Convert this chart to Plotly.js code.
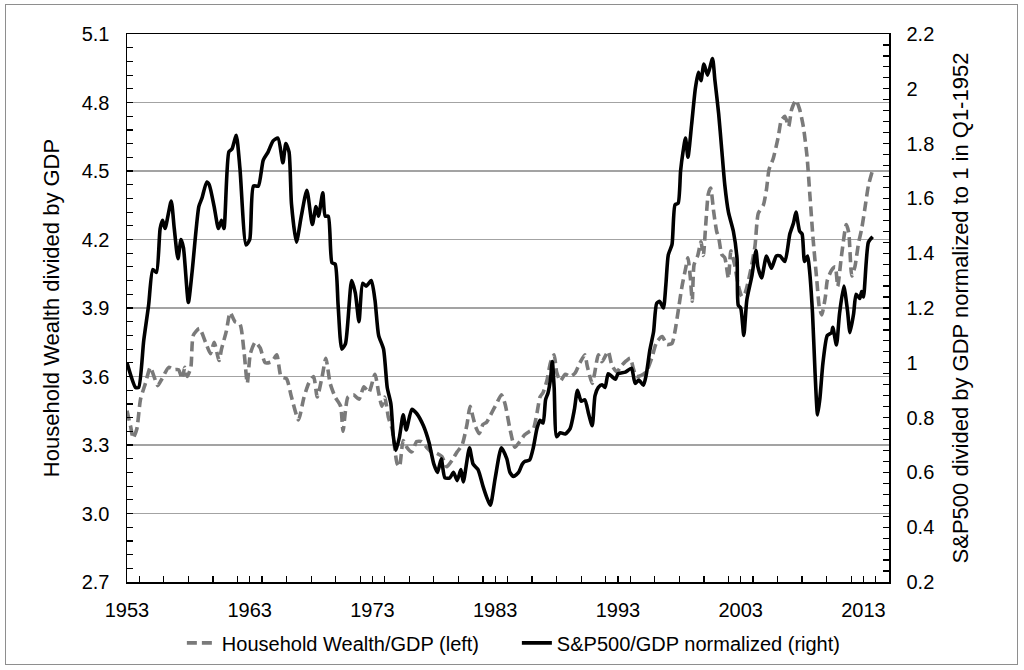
<!DOCTYPE html>
<html>
<head>
<meta charset="utf-8">
<script src="https://cdn.plot.ly/plotly-3.0.1.min.js"></script>
<style>
  body { margin: 0; background: #fff; }
  #chart { width: 1024px; height: 670px; }
  #frame { position: absolute; left: 5px; top: 4px; width: 1011px; height: 659px;
           border: 1px solid #8e8e8e; pointer-events: none; }
</style>
</head>
<body>
<div id="chart"></div>
<div id="frame"></div>
<script>
// household wealth / GDP (left axis)
var wealthYears = [1953.0, 1953.3, 1953.5, 1953.8, 1954.1, 1954.5, 1954.9, 1955.2, 1955.5, 1955.85,
  1956.4, 1956.8, 1957.2, 1957.5, 1957.7, 1957.9, 1958.2, 1958.4, 1958.9, 1959.4,
  1959.8, 1960.1, 1960.5, 1960.7, 1961.1, 1961.4, 1961.8, 1962.2, 1962.55, 1962.8,
  1963.05, 1963.45, 1963.85, 1964.26, 1964.8, 1965.2, 1965.55, 1966.0, 1966.4, 1966.97,
  1967.4, 1967.8, 1968.2, 1968.5, 1968.9, 1969.2, 1969.55, 1969.96, 1970.4, 1970.6,
  1971.0, 1971.45, 1971.9, 1972.3, 1972.7, 1973.2, 1973.5, 1973.76, 1974.0, 1974.3,
  1974.6, 1975.0, 1975.2, 1975.5, 1975.8, 1976.2, 1976.6, 1977.0, 1977.4, 1977.8,
  1978.2, 1978.65, 1979.05, 1979.5, 1979.9, 1980.3, 1980.7, 1980.95, 1981.2, 1981.4,
  1981.7, 1982.0, 1982.3, 1982.7, 1983.1, 1983.5, 1983.8, 1984.2, 1984.6, 1985.0,
  1985.4, 1985.8, 1986.1, 1986.4, 1986.65, 1986.9, 1987.2, 1987.5, 1987.8, 1988.0,
  1988.3, 1988.7, 1989.1, 1989.5, 1989.9, 1990.3, 1990.5, 1990.9, 1991.1, 1991.4,
  1991.7, 1992.2, 1992.5, 1992.9, 1993.25, 1993.6, 1994.0, 1994.25, 1994.5, 1994.9,
  1995.3, 1995.75, 1996.15, 1996.6, 1997.0, 1997.4, 1997.65, 1997.9, 1998.2, 1998.5,
  1998.7, 1998.9, 1999.05, 1999.2, 1999.5, 1999.76, 1999.95, 2000.15, 2000.36, 2000.55,
  2000.8, 2001.04, 2001.2, 2001.45, 2001.7, 2002.0, 2002.2, 2002.5, 2002.8, 2003.1,
  2003.35, 2003.75, 2004.16, 2004.43, 2004.84, 2005.1, 2005.3, 2005.65, 2006.06, 2006.3,
  2006.6, 2006.9, 2007.15, 2007.5, 2007.8, 2008.1, 2008.4, 2008.64, 2008.9, 2009.2,
  2009.4, 2009.6, 2009.9, 2010.05, 2010.4, 2010.7, 2010.9, 2011.2, 2011.6, 2011.8,
  2012.05, 2012.3, 2012.6, 2012.85, 2013.1, 2013.4, 2013.75];
var wealthVals = [3.45, 3.38, 3.33, 3.37, 3.50, 3.57, 3.64, 3.60, 3.56, 3.59,
  3.64, 3.63, 3.63, 3.59, 3.64, 3.60, 3.64, 3.78, 3.81, 3.75,
  3.70, 3.75, 3.67, 3.72, 3.80, 3.88, 3.84, 3.83, 3.70, 3.57,
  3.70, 3.75, 3.725, 3.66, 3.665, 3.695, 3.60, 3.59, 3.51, 3.41,
  3.505, 3.57, 3.60, 3.51, 3.60, 3.68, 3.57, 3.51, 3.47, 3.36,
  3.51, 3.52, 3.50, 3.555, 3.53, 3.61, 3.53, 3.47, 3.51, 3.42,
  3.37, 3.22, 3.205, 3.32, 3.29, 3.27, 3.315, 3.315, 3.29, 3.27,
  3.265, 3.25, 3.205, 3.235, 3.27, 3.30, 3.39, 3.47, 3.42, 3.38,
  3.35, 3.39, 3.40, 3.44, 3.48, 3.52, 3.48, 3.37, 3.29, 3.315,
  3.345, 3.36, 3.37, 3.44, 3.51, 3.53, 3.58, 3.66, 3.695, 3.62,
  3.58, 3.61, 3.60, 3.615, 3.66, 3.695, 3.645, 3.57, 3.615, 3.695,
  3.665, 3.71, 3.65, 3.62, 3.645, 3.665, 3.68, 3.635, 3.60, 3.605,
  3.62, 3.68, 3.75, 3.775, 3.74, 3.745, 3.80, 3.885, 3.99, 4.07,
  4.12, 4.03, 3.93, 4.09, 4.13, 4.19, 4.13, 4.265, 4.40, 4.425,
  4.32, 4.235, 4.21, 4.135, 4.12, 4.03, 4.15, 4.09, 4.00, 3.95,
  3.965, 4.05, 4.17, 4.315, 4.35, 4.42, 4.505, 4.555, 4.65, 4.72,
  4.74, 4.695, 4.77, 4.81, 4.77, 4.695, 4.565, 4.39, 4.20, 4.02,
  3.905, 3.87, 3.95, 4.02, 4.065, 4.08, 3.995, 4.125, 4.265, 4.23,
  4.04, 4.08, 4.185, 4.245, 4.33, 4.435, 4.505];

// S&P500 / GDP normalized (right axis)
var spYears = [1953.0, 1953.7, 1953.95, 1954.36, 1954.76, 1955.1, 1955.4, 1955.7, 1955.9, 1956.1,
  1956.6, 1956.85, 1957.15, 1957.4, 1957.6, 1958.0, 1958.3, 1958.85, 1959.1, 1959.5,
  1959.7, 1960.1, 1960.45, 1960.7, 1960.9, 1961.3, 1961.55, 1961.9, 1962.2, 1962.7,
  1963.0, 1963.3, 1963.7, 1964.1, 1964.5, 1964.9, 1965.3, 1965.7, 1965.94, 1966.2,
  1966.4, 1966.8, 1967.2, 1967.65, 1968.1, 1968.4, 1968.6, 1968.95, 1969.15, 1969.4,
  1969.7, 1969.96, 1970.2, 1970.5, 1970.8, 1971.3, 1971.6, 1971.9, 1972.2, 1972.5,
  1972.9, 1973.2, 1973.5, 1973.9, 1974.2, 1974.5, 1974.7, 1974.9, 1975.2, 1975.5,
  1975.75, 1976.2, 1976.6, 1977.15, 1977.6, 1978.0, 1978.3, 1978.6, 1978.9, 1979.3,
  1979.6, 1979.9, 1980.2, 1980.4, 1980.9, 1981.2, 1981.6, 1982.0, 1982.3, 1982.6,
  1983.0, 1983.5, 1983.94, 1984.2, 1984.5, 1984.9, 1985.2, 1985.4, 1985.8, 1986.1,
  1986.4, 1986.65, 1986.9, 1987.1, 1987.3, 1987.5, 1987.65, 1987.8, 1988.0, 1988.3,
  1988.7, 1989.1, 1989.45, 1989.7, 1990.0, 1990.3, 1990.6, 1990.9, 1991.13, 1991.4,
  1991.7, 1991.95, 1992.2, 1992.5, 1992.8, 1993.0, 1993.6, 1994.1, 1994.4, 1994.7,
  1995.07, 1995.3, 1995.6, 1995.9, 1996.15, 1996.4, 1996.7, 1996.9, 1997.1, 1997.4,
  1997.65, 1997.9, 1998.1, 1998.3, 1998.5, 1998.7, 1999.0, 1999.3, 1999.55, 1999.76,
  2000.0, 2000.3, 2000.7, 2000.9, 2001.2, 2001.45, 2001.7, 2002.0, 2002.4, 2002.7,
  2002.8, 2003.0, 2003.25, 2003.5, 2003.9, 2004.24, 2004.4, 2004.7, 2005.1, 2005.5,
  2005.9, 2006.2, 2006.6, 2007.0, 2007.3, 2007.5, 2007.8, 2008.0, 2008.2, 2008.45,
  2008.6, 2008.85, 2009.05, 2009.26, 2009.45, 2009.7, 2010.05, 2010.4, 2010.5, 2010.8,
  2011.05, 2011.4, 2011.7, 2011.9, 2012.2, 2012.4, 2012.7, 2012.85, 2013.0, 2013.4,
  2013.75];
var spVals = [1.00, 0.91, 0.91, 1.08, 1.21, 1.34, 1.33, 1.49, 1.52, 1.49,
  1.59, 1.49, 1.38, 1.45, 1.42, 1.22, 1.33, 1.57, 1.60, 1.66,
  1.65, 1.57, 1.49, 1.52, 1.49, 1.77, 1.78, 1.83, 1.71, 1.43,
  1.45, 1.645, 1.645, 1.74, 1.77, 1.81, 1.82, 1.73, 1.80, 1.77,
  1.58, 1.44, 1.535, 1.63, 1.505, 1.57, 1.535, 1.62, 1.535, 1.535,
  1.365, 1.36, 1.21, 1.05, 1.07, 1.30, 1.255, 1.15, 1.29, 1.28,
  1.30, 1.23, 1.10, 1.05, 0.91, 0.85, 0.73, 0.68, 0.73, 0.81,
  0.755, 0.83, 0.815, 0.77, 0.71, 0.63, 0.60, 0.65, 0.58, 0.58,
  0.60, 0.57, 0.61, 0.565, 0.69, 0.63, 0.61, 0.55, 0.51, 0.48,
  0.58, 0.69, 0.65, 0.60, 0.585, 0.60, 0.63, 0.64, 0.645, 0.69,
  0.76, 0.79, 0.78, 0.865, 0.89, 0.94, 1.005, 0.91, 0.73, 0.745,
  0.74, 0.76, 0.83, 0.90, 0.86, 0.865, 0.815, 0.77, 0.88, 0.91,
  0.92, 0.91, 0.96, 0.95, 0.94, 0.96, 0.966, 0.98, 0.925, 0.937,
  0.918, 0.956, 1.047, 1.113, 1.217, 1.224, 1.20, 1.284, 1.394, 1.431,
  1.577, 1.582, 1.70, 1.77, 1.82, 1.75, 1.87, 2.00, 2.06, 2.03,
  2.09, 2.05, 2.11, 2.03, 1.91, 1.78, 1.65, 1.55, 1.48, 1.38,
  1.21, 1.20, 1.10, 1.23, 1.315, 1.41, 1.35, 1.31, 1.39, 1.345,
  1.39, 1.39, 1.37, 1.47, 1.51, 1.55, 1.48, 1.47, 1.37, 1.39,
  1.34, 1.18, 0.97, 0.81, 0.87, 1.00, 1.10, 1.11, 1.13, 1.065,
  1.18, 1.28, 1.19, 1.11, 1.18, 1.25, 1.235, 1.26, 1.24, 1.44,
  1.46];

var fontFam = '"Liberation Sans", Arial, sans-serif';

var wealth = {
  x: wealthYears, y: wealthVals,
  type: 'scatter', mode: 'lines',
  name: 'Household Wealth/GDP (left)',
  line: {color: '#7a7a7a', width: 3.6, dash: '10px,5px', shape: 'spline', smoothing: 0.6},
  yaxis: 'y'
};
var sp = {
  x: spYears, y: spVals,
  type: 'scatter', mode: 'lines',
  name: 'S&P500/GDP normalized (right)',
  line: {color: '#000000', width: 3.6, shape: 'spline', smoothing: 0.6},
  yaxis: 'y2'
};

var layout = {
  width: 1024, height: 670,
  paper_bgcolor: '#ffffff', plot_bgcolor: '#ffffff',
  margin: {l: 127, r: 135, t: 34, b: 88, autoexpand: false},
  font: {family: fontFam, size: 20, color: '#000'},
  showlegend: true,
  legend: {orientation: 'h', x: 0.072, xanchor: 'left', y: -0.111, yanchor: 'middle',
           entrywidth: 290, entrywidthmode: 'pixels',
           font: {family: fontFam, size: 20, color: '#000'}, bgcolor: 'rgba(0,0,0,0)'},
  xaxis: {
    range: [1953, 2015.08], tick0: 1953, dtick: 10,
    ticks: 'inside', ticklen: 6, tickwidth: 1.2, tickcolor: '#000',
    minor: {dtick: 2, ticks: 'inside', ticklen: 6, tickwidth: 1.2, tickcolor: '#000', showgrid: false},
    showline: true, linecolor: '#000', linewidth: 1.5, mirror: true,
    showgrid: false, zeroline: false, ticklabelstandoff: 9,
    tickfont: {family: fontFam, size: 20, color: '#000'}
  },
  yaxis: {
    range: [2.7, 5.1], tick0: 2.7, dtick: 0.3, tickformat: '.1f',
    ticks: 'inside', ticklen: 6, tickwidth: 1.2, tickcolor: '#000',
    minor: {dtick: 0.06, ticks: 'inside', ticklen: 6, tickwidth: 1.2, tickcolor: '#000', showgrid: false},
    showline: true, linecolor: '#000', linewidth: 1.5, mirror: true,
    showgrid: true, gridcolor: '#a3a3a3', gridwidth: 1.5, zeroline: false,
    ticklabelstandoff: 12,
    tickfont: {family: fontFam, size: 20, color: '#000'},
    title: {text: 'Household Wealth divided by GDP', standoff: 16,
            font: {family: fontFam, size: 22, color: '#000'}}
  },
  yaxis2: {
    overlaying: 'y', side: 'right',
    range: [0.2, 2.2], tick0: 0.2, dtick: 0.2,
    ticks: 'inside', ticklen: 6, tickwidth: 1.2, tickcolor: '#000',
    minor: {dtick: 0.04, ticks: 'inside', ticklen: 6, tickwidth: 1.2, tickcolor: '#000', showgrid: false},
    showline: true, linecolor: '#000', linewidth: 1.5,
    showgrid: false, zeroline: false, ticklabelstandoff: 12,
    tickfont: {family: fontFam, size: 20, color: '#000'},
    title: {text: 'S&P500 divided by GDP normalized to 1 in Q1-1952', standoff: 19,
            font: {family: fontFam, size: 22, color: '#000'}}
  }
};

Plotly.newPlot('chart', [wealth, sp], layout, {staticPlot: true});
</script>
</body>
</html>
